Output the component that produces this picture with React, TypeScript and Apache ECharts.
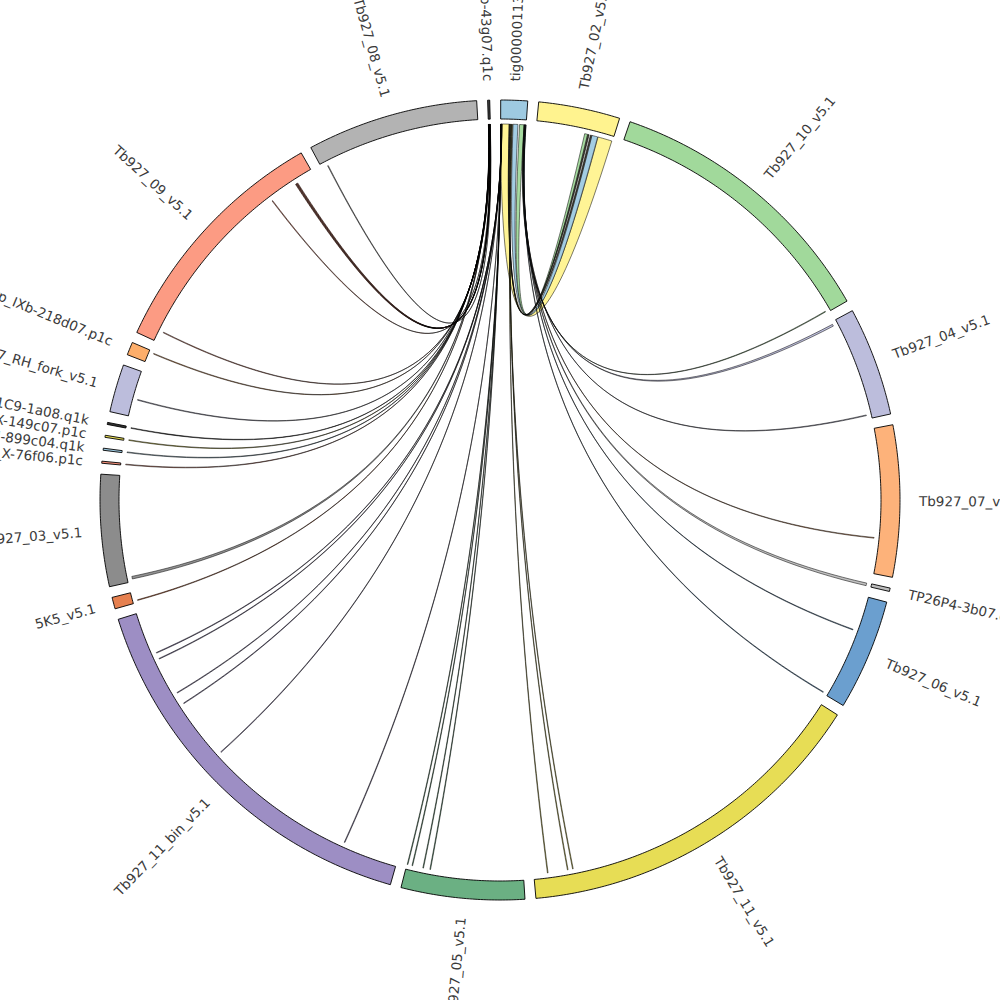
import React, { useEffect, useRef } from "react";
import * as echarts from "echarts";

// ---- DATA ----
const SEG_NAMES = [
  "tig00000113",
  "Tb927_02_v5.1",
  "Tb927_10_v5.1",
  "Tb927_04_v5.1",
  "Tb927_07_v5.1",
  "TP26P4-3b07.q1c",
  "Tb927_06_v5.1",
  "Tb927_11_v5.1",
  "Tb927_05_v5.1",
  "Tb927_11_bin_v5.1",
  "5K5_v5.1",
  "Tb927_03_v5.1",
  "grp_X-76f06.p1c",
  "grp_XI-899c04.q1k",
  "grp_X-149c07.p1c",
  "RP_31C9-1a08.q1k",
  "Tb927_RH_fork_v5.1",
  "grp_IXb-218d07.p1c",
  "Tb927_09_v5.1",
  "Tb927_08_v5.1",
  "grp_Xb-43g07.q1c",
];
// segment lengths (Mb)
const SEG_LENGTHS = [
  0.39, 1.19, 4.14, 1.59, 2.21, 0.05, 1.62, 5.26, 1.8, 5.7, 0.17, 1.63, 0.03,
  0.03, 0.03, 0.03, 0.7, 0.19, 3.56, 2.5, 0.03,
];
const SEG_COLORS = [
  "#9ecae1", "#fff38f", "#a1d99b", "#bcbddc", "#fdb27a", "#bdbdbd", "#6b9fcf",
  "#e7dd55", "#6bb083", "#9d8ec4", "#e6804f", "#8c8c8c", "#f4907a", "#9ecae1",
  "#e7dd55", "#333333", "#bcbddc", "#fdae6b", "#fc9b83", "#b3b3b3", "#444444",
];
const GAP = 0.158;
const START = 0.01;

// chords: source, src start, src end, target, tgt start, tgt end (Mb within segment)
const CHORD_SRC = [
  "tig00000113", "tig00000113", "tig00000113", "tig00000113", "tig00000113",
  "tig00000113", "tig00000113", "tig00000113", "tig00000113", "tig00000113",
  "tig00000113", "tig00000113", "tig00000113", "tig00000113", "tig00000113",
  "tig00000113", "tig00000113", "tig00000113", "tig00000113", "tig00000113",
  "tig00000113", "tig00000113", "tig00000113", "tig00000113", "tig00000113",
  "grp_Xb-43g07.q1c", "grp_Xb-43g07.q1c", "grp_Xb-43g07.q1c", "grp_Xb-43g07.q1c",
  "grp_Xb-43g07.q1c", "grp_Xb-43g07.q1c", "grp_Xb-43g07.q1c", "grp_Xb-43g07.q1c",
  "grp_Xb-43g07.q1c", "grp_Xb-43g07.q1c", "grp_Xb-43g07.q1c", "grp_Xb-43g07.q1c",
  "grp_Xb-43g07.q1c", "grp_Xb-43g07.q1c", "grp_Xb-43g07.q1c",
];
const CHORD_SRC_START = [
  0.0, 0.19, 0.29, 0.13, 0.145, 0.155, 0.165, 0.175, 0.36, 0.364, 0.369, 0.373,
  0.377, 0.382, 0.386,
  0.001, 0.003, 0.005, 0.007, 0.009, 0.011, 0.013, 0.015, 0.017, 0.019,
  0.0, 0.002, 0.004, 0.006, 0.008, 0.01, 0.012, 0.014, 0.016, 0.018, 0.02,
  0.022, 0.024, 0.026, 0.028,
];
const CHORD_SRC_END = [
  0.13, 0.265, 0.36, 0.14, 0.15, 0.16, 0.17, 0.18, 0.363, 0.368, 0.372, 0.376,
  0.381, 0.385, 0.389,
  0.002, 0.004, 0.006, 0.008, 0.01, 0.012, 0.014, 0.016, 0.018, 0.02,
  0.001, 0.003, 0.005, 0.007, 0.009, 0.011, 0.013, 0.015, 0.017, 0.019, 0.021,
  0.023, 0.025, 0.027, 0.029,
];
const CHORD_TGT = [
  "Tb927_02_v5.1", "Tb927_02_v5.1", "Tb927_02_v5.1", "Tb927_02_v5.1", "Tb927_02_v5.1",
  "Tb927_11_v5.1", "Tb927_11_v5.1", "Tb927_11_v5.1", "Tb927_10_v5.1", "Tb927_04_v5.1",
  "Tb927_04_v5.1", "Tb927_07_v5.1", "TP26P4-3b07.q1c", "Tb927_06_v5.1", "Tb927_06_v5.1",
  "Tb927_05_v5.1", "Tb927_05_v5.1", "Tb927_05_v5.1", "Tb927_05_v5.1",
  "Tb927_11_bin_v5.1", "Tb927_11_bin_v5.1", "Tb927_11_bin_v5.1", "Tb927_11_bin_v5.1",
  "Tb927_11_bin_v5.1", "Tb927_11_bin_v5.1",
  "5K5_v5.1", "Tb927_03_v5.1", "grp_X-76f06.p1c", "grp_XI-899c04.q1k",
  "grp_X-149c07.p1c", "RP_31C9-1a08.q1k", "Tb927_RH_fork_v5.1", "grp_IXb-218d07.p1c",
  "Tb927_09_v5.1", "Tb927_09_v5.1", "Tb927_09_v5.1", "Tb927_09_v5.1", "Tb927_09_v5.1",
  "Tb927_09_v5.1", "Tb927_08_v5.1",
];
const CHORD_TGT_START = [
  0.96, 0.865, 0.75, 0.84, 0.8, 4.65, 4.73, 5.04, 4.11, 0.04, 1.525, 1.665, 0.005,
  0.535, 1.595,
  1.43, 1.54, 1.71, 1.785, 0.85, 3.21, 4.15, 4.34, 4.93, 5.03,
  0.03, 0.04, 0.01, 0.01, 0.01, 0.01, 0.265, 0.155, 0.165, 2.805, 3.245, 3.255,
  3.265, 3.275, 0.095,
];
const CHORD_TGT_END = [
  1.18, 0.955, 0.795, 0.86, 0.82, 4.66, 4.74, 5.05, 4.12, 0.07, 1.535, 1.675, 0.045,
  0.545, 1.605,
  1.44, 1.55, 1.72, 1.795, 0.86, 3.22, 4.16, 4.35, 4.94, 5.04,
  0.04, 0.08, 0.02, 0.02, 0.02, 0.02, 0.275, 0.165, 0.175, 2.815, 3.255, 3.265,
  3.275, 3.285, 0.105,
];
const CHORD_COLORS = [
  "#fff38f", "#9ecae1", "#a1d99b", "#3a3a2a", "#3a3a2a",
];

// ---- LAYOUT ----
const R_OUT = 400;
const R_IN = 381;
const R_CHORD = 376;
const R_LABEL = 419;

const SEG_OFFSETS: number[] = [];
{
  let acc = START;
  for (let i = 0; i < SEG_LENGTHS.length; i++) {
    SEG_OFFSETS.push(acc);
    acc += SEG_LENGTHS[i] + GAP;
  }
}
const TOTAL = SEG_LENGTHS.reduce((a, b) => a + b, 0) + GAP * SEG_LENGTHS.length;

function segIndex(name: string) {
  return SEG_NAMES.indexOf(name);
}

function arcPts(api: any, r: number, v0: number, v1: number) {
  const deg = (Math.abs(v1 - v0) / TOTAL) * 360;
  const n = Math.max(2, Math.ceil(deg / 0.4));
  const pts: number[][] = [];
  for (let i = 0; i <= n; i++) pts.push(api.coord([r, v0 + ((v1 - v0) * i) / n]));
  return pts;
}

function quadPts(p0: number[], c: number[], p2: number[]) {
  const pts: number[][] = [];
  const n = 60;
  for (let i = 1; i < n; i++) {
    const t = i / n;
    const a = (1 - t) * (1 - t);
    const b = 2 * t * (1 - t);
    const d = t * t;
    pts.push([a * p0[0] + b * c[0] + d * p2[0], a * p0[1] + b * c[1] + d * p2[1]]);
  }
  return pts;
}

export default function App() {
  const ref = useRef<HTMLDivElement>(null);
  useEffect(() => {
    document.body.style.margin = "0";
    if (!ref.current) return;
    const chart = echarts.init(ref.current, undefined, { renderer: "svg" });

    const segRender = (params: any, api: any) => {
      const i = params.dataIndex;
      const v0 = SEG_OFFSETS[i];
      const v1 = v0 + SEG_LENGTHS[i];
      const outer = arcPts(api, R_OUT, v0, v1);
      const inner = arcPts(api, R_IN, v1, v0);
      const mid = (v0 + v1) / 2;
      const theta = (mid / TOTAL) * 360;
      const anchor = api.coord([R_LABEL, mid]);
      const flipped = theta >= 180;
      const rotDeg = flipped ? 270 - theta : 90 - theta;
      return {
        type: "group",
        children: [
          {
            type: "polygon",
            shape: { points: outer.concat(inner) },
            style: { fill: SEG_COLORS[i], stroke: "#000", lineWidth: 0.9 },
          },
          {
            type: "text",
            x: anchor[0],
            y: anchor[1],
            rotation: (rotDeg * Math.PI) / 180,
            style: {
              text: SEG_NAMES[i],
              fill: "#3a3a3a",
              font: '13.5px "DejaVu Sans"',
              align: flipped ? "right" : "left",
              verticalAlign: "middle",
            },
          },
        ],
      };
    };

    const chordRender = (params: any, api: any) => {
      const k = params.dataIndex;
      const si = segIndex(CHORD_SRC[k]);
      const ti = segIndex(CHORD_TGT[k]);
      const a0 = SEG_OFFSETS[si] + CHORD_SRC_START[k];
      const a1 = SEG_OFFSETS[si] + CHORD_SRC_END[k];
      const b0 = SEG_OFFSETS[ti] + CHORD_TGT_START[k];
      const b1 = SEG_OFFSETS[ti] + CHORD_TGT_END[k];
      const c = api.coord([0, 0]);
      const srcArc = arcPts(api, R_CHORD, a0, a1);
      const tgtArc = arcPts(api, R_CHORD, b0, b1);
      const pA1 = srcArc[srcArc.length - 1];
      const pB0 = tgtArc[0];
      const pB1 = tgtArc[tgtArc.length - 1];
      const pA0 = srcArc[0];
      const pts = srcArc
        .concat(quadPts(pA1, c, pB0))
        .concat(tgtArc)
        .concat(quadPts(pB1, c, pA0));
      const fill = CHORD_COLORS[k] || SEG_COLORS[ti];
      return {
        type: "polygon",
        shape: { points: pts },
        style: { fill, stroke: "#000", lineWidth: 0.55, opacity: 0.95 },
      };
    };

    chart.setOption({
      animation: false,
      backgroundColor: "#ffffff",
      polar: { center: ["50%", "50%"], radius: R_OUT },
      angleAxis: {
        type: "value",
        min: 0,
        max: TOTAL,
        startAngle: 90,
        clockwise: true,
        show: false,
      },
      radiusAxis: { type: "value", min: 0, max: R_OUT, show: false },
      series: [
        {
          type: "custom",
          coordinateSystem: "polar",
          renderItem: chordRender,
          data: CHORD_SRC.map((s, k) => [R_CHORD, SEG_OFFSETS[segIndex(s)] + CHORD_SRC_START[k]]),
          silent: true,
        },
        {
          type: "custom",
          coordinateSystem: "polar",
          renderItem: segRender,
          data: SEG_NAMES.map((_, i) => [R_OUT, SEG_OFFSETS[i] + SEG_LENGTHS[i] / 2]),
          silent: true,
        },
      ],
    });
    return () => chart.dispose();
  }, []);
  return <div ref={ref} style={{ width: 1000, height: 1000 }} />;
}
